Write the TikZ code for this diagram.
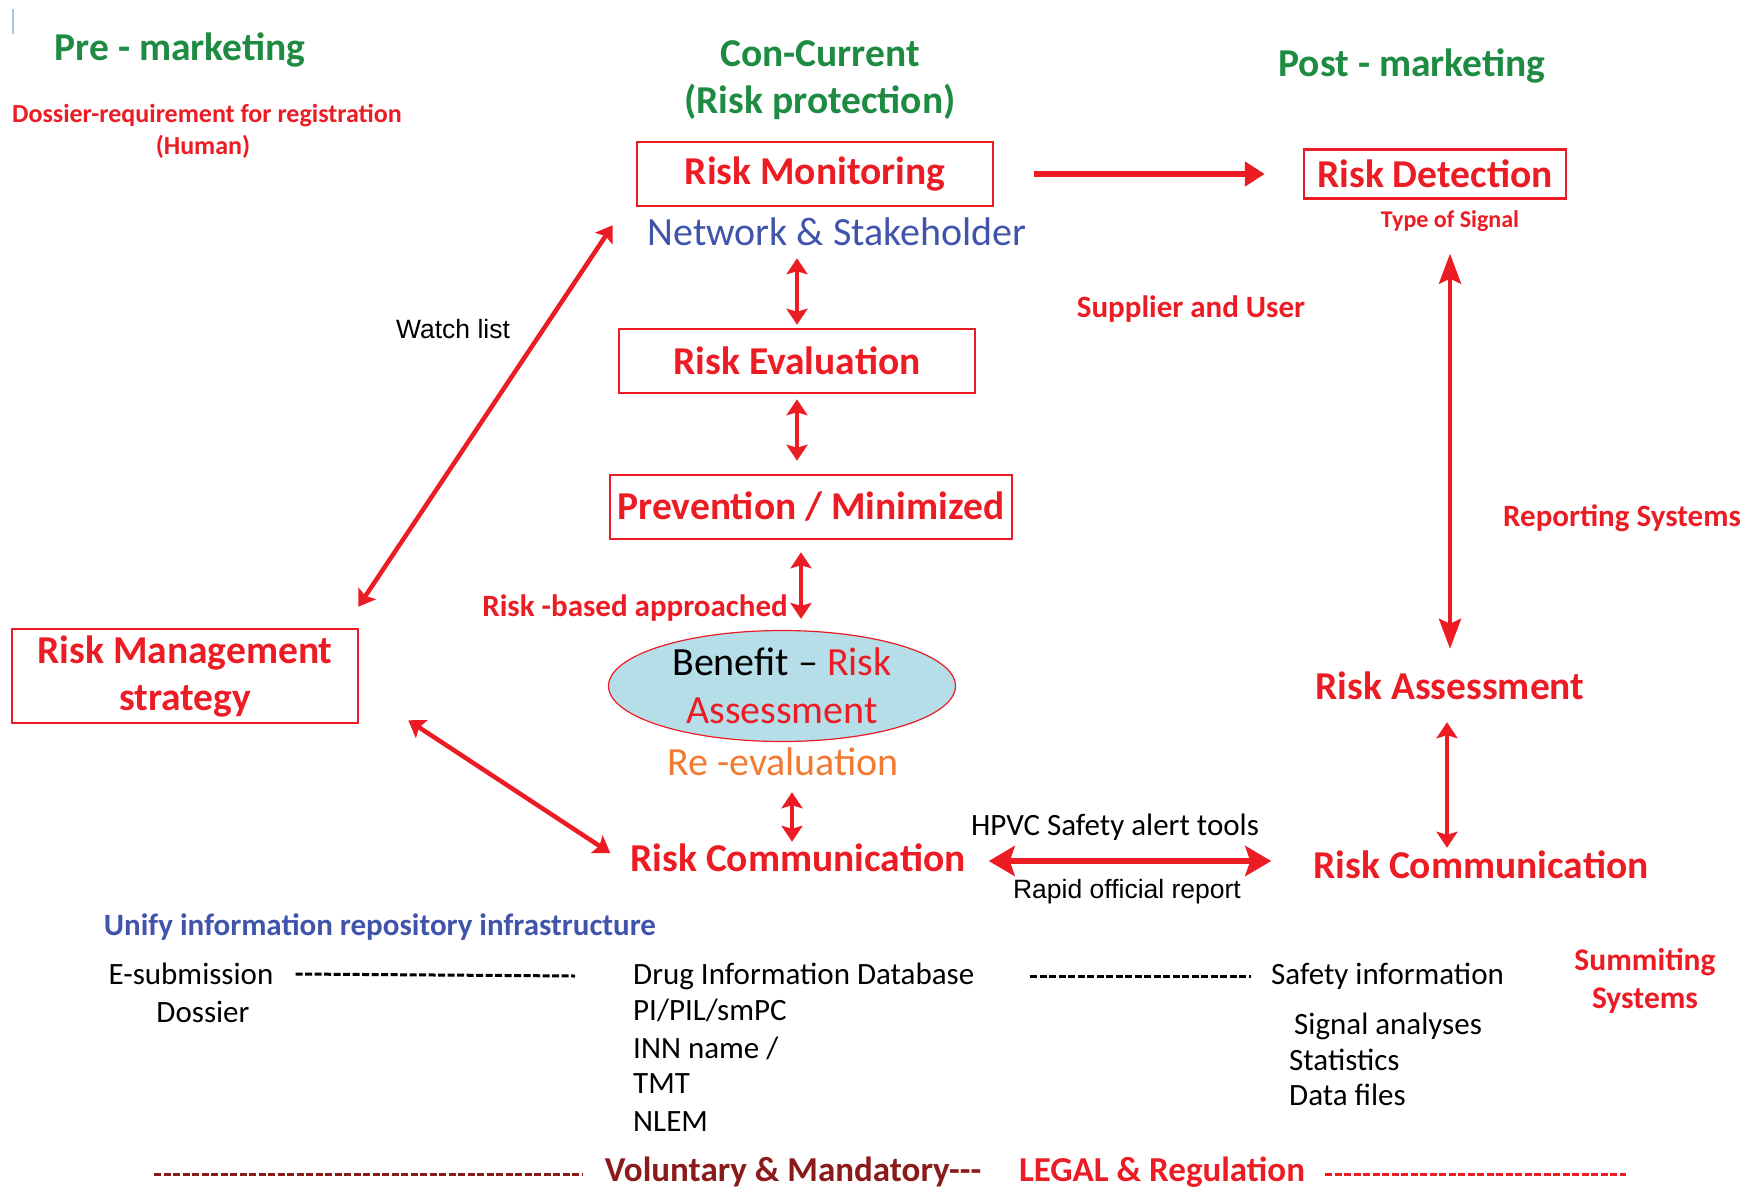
\documentclass[tikz,border=0pt]{standalone}
\usepackage{fontspec}
\setmainfont{Carlito}
\newfontfamily\arialfont{Liberation Sans}
\usepackage{tikz}
\usetikzlibrary{shapes.geometric, arrows.meta, positioning, calc}
\definecolor{riskred}{HTML}{EC1C24}
\definecolor{titlegreen}{HTML}{1E8B43}
\definecolor{netblue}{HTML}{4154AC}
\definecolor{reorange}{HTML}{F37A32}
\definecolor{darkred}{HTML}{8B1A1A}
\definecolor{ellfill}{HTML}{B5DEE9}
\definecolor{edgeblue}{HTML}{A9C4EB}
\newcommand{\bigsize}{\fontsize{39.5}{47}\selectfont}

\begin{document}
\begin{tikzpicture}[x=1pt, y=-1pt,
    heading/.style={text=titlegreen, font=\bigsize\bfseries, inner sep=0pt, align=center},
    redbox/.style={draw=riskred, line width=2.5pt, text=riskred, font=\bigsize\bfseries,
      minimum height=64pt, inner sep=0pt, align=center},
    bigred/.style={text=riskred, font=\bigsize\bfseries, inner sep=0pt},
    lbl/.style={text=riskred, font=\fontsize{31}{36}\selectfont\bfseries, inner sep=0pt, align=center},
    info/.style={font=\fontsize{31}{36}\selectfont, inner sep=0pt},
    plain/.style={font=\arialfont\fontsize{26.5}{30}\selectfont, inner sep=0pt},
    dbl/.style={riskred, line width=4.5pt,
      {Stealth[length=16pt,width=21pt,inset=3pt]}-{Stealth[length=16pt,width=21pt,inset=3pt]}},
    dashrule/.style={line width=3pt, dash pattern=on 7pt off 2.5pt}]
\useasboundingbox (0,0) rectangle (1762,1192);
\fill[white] (0,0) rectangle (1762,1192);
\draw[edgeblue, line width=1.5pt] (13,9) -- (13,34);

% column headings
\node[heading] (pre) at (180,50) {Pre - marketing};
\node[lbl, font=\fontsize{26}{30}\selectfont\bfseries] (dossreq) at (207,116) {Dossier-requirement for registration};
\node[lbl, font=\fontsize{26}{30}\selectfont\bfseries] (human) at (203,147) {(Human)};
\node[heading] (concur) at (820,80) {Con-Current\\(Risk protection)};
\node[heading] (post) at (1412,66) {Post - marketing};

% centre column
\node[redbox, minimum width=356pt] (monitor) at (815,174) {Risk Monitoring};
\node[text=netblue, font=\fontsize{40}{47}\selectfont, inner sep=0pt] (net) at (837,232) {Network \& Stakeholder};
\node[redbox, minimum width=356pt] (eval) at (797,361) {Risk Evaluation};
\node[redbox, minimum width=402pt] (prev) at (811,507) {Prevention / Minimized};
\node[lbl] (riskbased) at (635,608) {Risk -based approached};
\node[ellipse, draw=riskred, line width=1.2pt, fill=ellfill, text=riskred, font=\fontsize{40}{48}\selectfont,
      minimum width=347pt, minimum height=111pt, inner sep=0pt, align=center]
      (benefit) at (782,686) {{\color{black}Benefit \textendash{}} Risk\\Assessment};
\node[text=reorange, font=\fontsize{40}{47}\selectfont, inner sep=0pt] (reeval) at (783,762) {Re -evaluation};
\node[bigred] (commL) at (798,858) {Risk Communication};

% right column
\node[redbox, minimum width=262pt, minimum height=49pt] (detect) at (1435,174) {Risk Detection};
\node[lbl, font=\fontsize{24}{28}\selectfont\bfseries] (signal) at (1450,221) {Type of Signal};
\node[lbl] (supplier) at (1191,309) {Supplier and User};
\node[lbl] (reporting) at (1622,518) {Reporting Systems};
\node[bigred] (assessR) at (1450,686) {Risk Assessment};
\node[bigred] (commR) at (1481,865) {Risk Communication};
\node[info] (hpvc) at (1115,827) {HPVC Safety alert tools};
\node[plain] (rapid) at (1127,892) {Rapid official report};

% left column
\node[redbox, minimum width=346pt, minimum height=94pt] (strategy) at (185,676) {Risk Management\\strategy};
\node[plain] (watch) at (453,329) {Watch list};

% arrows
\draw[riskred, line width=6pt, -{Triangle[length=20pt,width=24pt]}, shorten <=40pt, shorten >=38pt]
    (monitor.east) -- (detect.west);
\draw[dbl] ([yshift=-12pt]eval.north |- net.south) -- ([yshift=3pt]eval.north);
\draw[dbl] ([yshift=-5pt]eval.south) -- ([yshift=13pt]eval.south |- prev.north);
\draw[dbl] ([shift={(-10,12)}]prev.south) -- ([shift={(-10,-11)}]prev.south |- benefit.north);
\draw[dbl] ([shift={(-6,16)}]reeval.south -| commL.north) -- ([shift={(-6,-2)}]commL.north);
\draw[dbl] ([shift={(-1,-21)}]strategy.north east) -- ([shift={(-23,18)}]monitor.south west);
\draw[dbl] ([shift={(49,-4)}]strategy.south east) -- ([shift={(-20,-5)}]commL.west);
\draw[dbl, line width=6pt, {Stealth[length=26pt,width=30pt,inset=5pt]}-{Stealth[length=26pt,width=30pt,inset=5pt]}]
    ([shift={(23,3)}]commL.east) -- ([shift={(-42,3)}]commL.east -| commR.west);
\draw[dbl, {Stealth[length=30pt,width=22pt,inset=5pt]}-{Stealth[length=30pt,width=22pt,inset=5pt]}]
    ([yshift=-22pt]signal.south) -- ([yshift=23pt]assessR.north);
\draw[dbl] ([shift={(-3,22)}]assessR.south) -- ([shift={(-3,-3)}]assessR.south |- commR.north);

% repository infrastructure
\node[text=netblue, font=\fontsize{31}{36}\selectfont\bfseries, inner sep=0pt] (unify) at (380,927)
    {Unify information repository infrastructure};
\node[info] (esub) at (191,974) {E-submission};
\node[info] (dossier) at (203,1012) {Dossier};
\node[info, anchor=west] (drug) at (633,976) {Drug Information Database};
\node[info, anchor=west] (pil) at (633,1010) {PI/PIL/smPC};
\node[info, anchor=west] (inn) at (633,1048) {INN name /};
\node[info, anchor=west] (tmt) at (633,1084) {TMT};
\node[info, anchor=west] (nlem) at (633,1122) {NLEM};
\node[info, anchor=west] (safety) at (1271,976) {Safety information};
\node[info, anchor=west] (sigan) at (1294,1026) {Signal analyses};
\node[info, anchor=west] (stats) at (1289,1060) {Statistics};
\node[info, anchor=west] (datafiles) at (1289,1095) {Data files};
\node[lbl, font=\fontsize{31.5}{38}\selectfont\bfseries] (summit) at (1645,981) {Summiting\\Systems};
\draw[dashrule] ([xshift=22pt]esub.east) -- ([xshift=-58pt]drug.west);
\draw[dashrule] ([xshift=56pt]drug.east) -- ([xshift=-20pt]safety.west);

% legal footer
\node[text=darkred, font=\fontsize{35}{40}\selectfont\bfseries, inner sep=0pt] (vol) at (793,1172)
    {Voluntary \& Mandatory-{}-{}-};
\node[text=riskred, font=\fontsize{35}{40}\selectfont\bfseries, inner sep=0pt] (legal) at (1162,1172)
    {LEGAL \& Regulation};
\coordinate (footL) at (154,1174);
\coordinate (footR) at (1626,1174);
\draw[dashrule, darkred] (footL) -- ([xshift=-22pt]footL -| vol.west);
\draw[dashrule, riskred] ([xshift=20pt]footR -| legal.east) -- (footR);
\end{tikzpicture}
\end{document}
